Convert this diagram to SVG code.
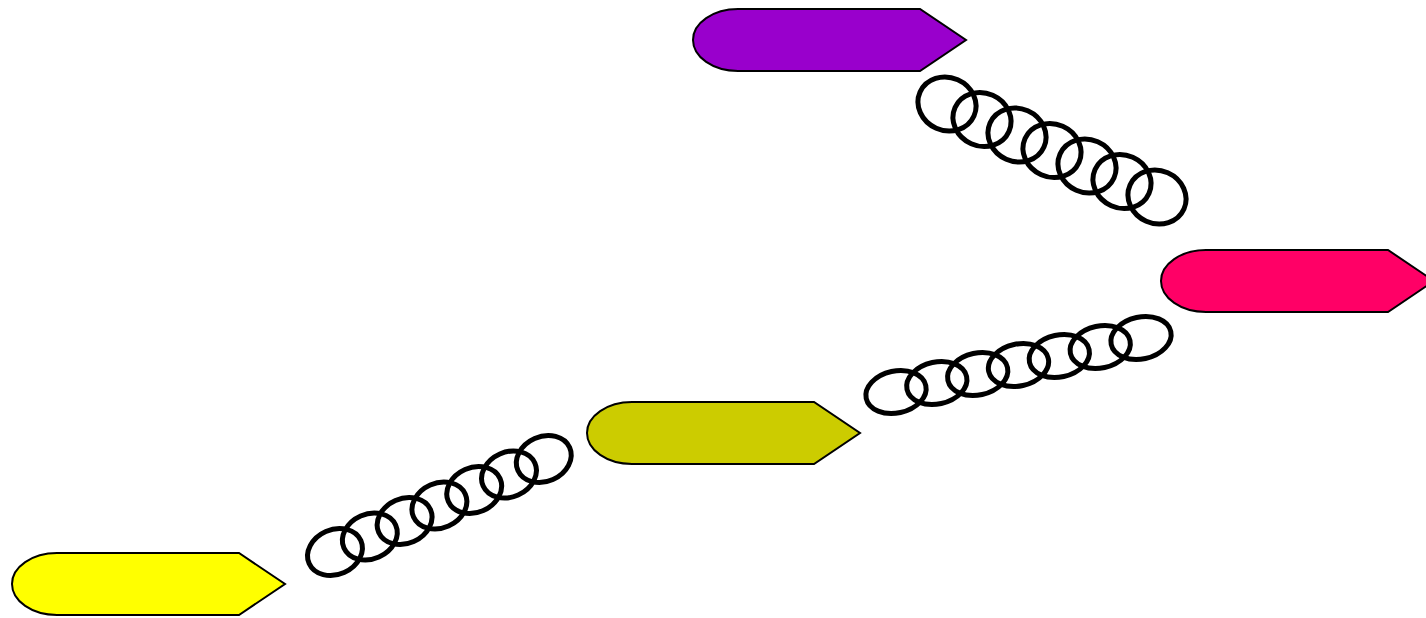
<svg xmlns="http://www.w3.org/2000/svg" xmlns:xlink="http://www.w3.org/1999/xlink" width="1426" height="618" viewBox="0 0 1426 618">
  <style>
    .tag { stroke: #000; stroke-width: 2; stroke-linejoin: miter; }
    .coil ellipse { fill: none; stroke: #000; stroke-width: 5; }
  </style>
  <defs>
    <!-- rounded-left, pointed-right tag shape, origin at top-left -->
    <path id="tagShape" d="M45 0 H227 L273 31 L227 62 H45 A45 31 0 0 1 45 0 Z"/>
  </defs>

  <rect width="1426" height="618" fill="#fff"/>

  <!-- coil connectors -->
  <g id="connectors">
    <g id="coil-yellow-olive" class="coil">
      <ellipse cx="335" cy="552" rx="28.3" ry="22.5" transform="rotate(-24 335 552)"/>
      <ellipse cx="369.8" cy="536.5" rx="28.3" ry="22.5" transform="rotate(-24 369.8 536.5)"/>
      <ellipse cx="404.6" cy="521" rx="28.3" ry="22.5" transform="rotate(-24 404.6 521)"/>
      <ellipse cx="439.4" cy="505.5" rx="28.3" ry="22.5" transform="rotate(-24 439.4 505.5)"/>
      <ellipse cx="474.2" cy="490" rx="28.3" ry="22.5" transform="rotate(-24 474.2 490)"/>
      <ellipse cx="509" cy="474.5" rx="28.3" ry="22.5" transform="rotate(-24 509 474.5)"/>
      <ellipse cx="543.8" cy="459" rx="28.3" ry="22.5" transform="rotate(-24 543.8 459)"/>
    </g>
    <g id="coil-olive-pink" class="coil">
      <ellipse cx="896" cy="392" rx="30.5" ry="21" transform="rotate(-12.4 896 392)"/>
      <ellipse cx="936.8" cy="383" rx="30.5" ry="21" transform="rotate(-12.4 936.8 383)"/>
      <ellipse cx="977.7" cy="374" rx="30.5" ry="21" transform="rotate(-12.4 977.7 374)"/>
      <ellipse cx="1018.5" cy="365" rx="30.5" ry="21" transform="rotate(-12.4 1018.5 365)"/>
      <ellipse cx="1059.3" cy="356" rx="30.5" ry="21" transform="rotate(-12.4 1059.3 356)"/>
      <ellipse cx="1100.2" cy="347" rx="30.5" ry="21" transform="rotate(-12.4 1100.2 347)"/>
      <ellipse cx="1141" cy="338" rx="30.5" ry="21" transform="rotate(-12.4 1141 338)"/>
    </g>
    <g id="coil-purple-pink" class="coil">
      <ellipse cx="947" cy="104" rx="29.5" ry="26.5" transform="rotate(24 947 104)"/>
      <ellipse cx="982" cy="119.5" rx="29.5" ry="26.5" transform="rotate(24 982 119.5)"/>
      <ellipse cx="1017" cy="135" rx="29.5" ry="26.5" transform="rotate(24 1017 135)"/>
      <ellipse cx="1052" cy="150.5" rx="29.5" ry="26.5" transform="rotate(24 1052 150.5)"/>
      <ellipse cx="1087" cy="166" rx="29.5" ry="26.5" transform="rotate(24 1087 166)"/>
      <ellipse cx="1122" cy="181.5" rx="29.5" ry="26.5" transform="rotate(24 1122 181.5)"/>
      <ellipse cx="1157" cy="197" rx="29.5" ry="26.5" transform="rotate(24 1157 197)"/>
    </g>
  </g>

  <!-- nodes -->
  <g id="node-yellow">
    <use xlink:href="#tagShape" href="#tagShape" class="tag" fill="#ffff00" transform="translate(12 553)"/>
  </g>
  <g id="node-olive">
    <use xlink:href="#tagShape" href="#tagShape" class="tag" fill="#cccc00" transform="translate(587 402)"/>
  </g>
  <g id="node-purple">
    <use xlink:href="#tagShape" href="#tagShape" class="tag" fill="#9900cc" transform="translate(693 9)"/>
  </g>
  <g id="node-pink">
    <use xlink:href="#tagShape" href="#tagShape" class="tag" fill="#ff0066" transform="translate(1161 250)"/>
  </g>
</svg>
